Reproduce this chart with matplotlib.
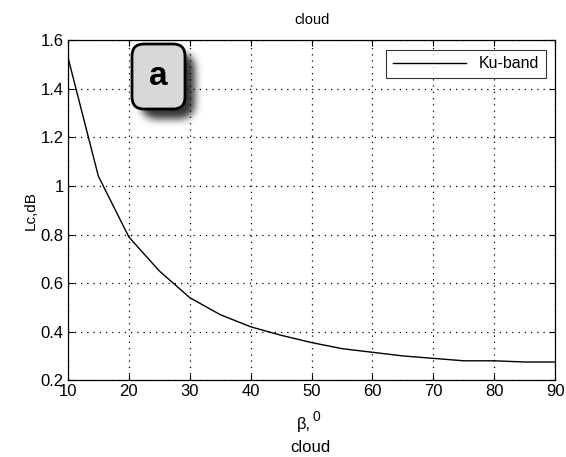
import numpy as np
import matplotlib
matplotlib.use("Agg")
import matplotlib.pyplot as plt
from matplotlib.patches import FancyBboxPatch
from matplotlib.transforms import IdentityTransform

plt.rcParams["font.family"] = ["Liberation Sans", "DejaVu Sans"]

# elevation angle (deg) and cloud attenuation (dB), Ku-band
beta = [10, 15, 20, 25, 30, 35, 40, 45, 50, 55, 60, 65, 70, 75, 80, 85, 90]
lc_ku = [1.53, 1.04, 0.79, 0.65, 0.54, 0.47, 0.42, 0.385, 0.355, 0.33,
         0.315, 0.30, 0.29, 0.28, 0.28, 0.275, 0.275]

x_ticks = [10, 20, 30, 40, 50, 60, 70, 80, 90]
y_ticks = [0.2, 0.4, 0.6, 0.8, 1.0, 1.2, 1.4, 1.6]
y_tick_labels = ["0.2", "0.4", "0.6", "0.8", "1", "1.2", "1.4", "1.6"]

W, H = 566, 457
fig = plt.figure(figsize=(W / 100, H / 100), dpi=100)
ax = fig.add_axes([0.120, 0.168, 0.861, 0.744])

ax.plot(beta, lc_ku, color="black", linewidth=1.0, label="Ku-band")

ax.set_xlim(10, 90)
ax.set_ylim(0.2, 1.6)
ax.set_xticks(x_ticks)
ax.set_yticks(y_ticks)
ax.set_yticklabels(y_tick_labels)
ax.tick_params(direction="in", top=True, right=True, labelsize=12, length=4, pad=3)
ax.grid(True, color="black", linestyle=(0, (1, 4)), linewidth=0.9)
for s in ax.spines.values():
    s.set_linewidth(0.9)

ax.set_title("cloud", fontsize=10.5, pad=12)
ax.set_ylabel("Lc,dB", fontsize=11, labelpad=2)

# x label: beta with superscript degree-zero, then "cloud" underneath
fig.text(304 / W, 1 - 424 / H, "β,", fontsize=12, ha="center", va="center")
fig.text(316 / W, 1 - 417 / H, "0", fontsize=10, ha="center", va="center")
fig.text(310 / W, 1 - 447 / H, "cloud", fontsize=12, ha="center", va="center")

leg = ax.legend(loc="upper right", fontsize=11.5, frameon=True, fancybox=False,
                handlelength=4.6, borderpad=0.4, borderaxespad=0.6)
leg.get_frame().set_edgecolor("black")
leg.get_frame().set_linewidth(0.8)

# "a" panel badge (pixel coords) with blurred drop shadow
x0, x1 = 132, 185
y0, y1 = H - 109, H - 44
r = 12

yy, xx = np.mgrid[0:H, 0:W]
dx = 9
dy = 10
sx0, sx1, sy0, sy1 = x0 + dx, x1 + dx, y0 - dy, y1 - dy
cx = np.clip(xx, sx0 + r, sx1 - r)
cy = np.clip(yy, sy0 + r, sy1 - r)
mask = (((xx - cx) ** 2 + (yy - cy) ** 2) <= r ** 2).astype(float)
k = np.exp(-0.5 * (np.arange(-12, 13) / 4.0) ** 2)
k /= k.sum()
mask = np.apply_along_axis(lambda v: np.convolve(v, k, mode="same"), 0, mask)
mask = np.apply_along_axis(lambda v: np.convolve(v, k, mode="same"), 1, mask)
rgba = np.zeros((H, W, 4))
rgba[..., 3] = mask * 0.8
sh_ax = fig.add_axes([0, 0, 1, 1], zorder=5)
sh_ax.imshow(rgba, origin="lower", extent=(0, W, 0, H), interpolation="bilinear")
sh_ax.set_xlim(0, W)
sh_ax.set_ylim(0, H)
sh_ax.axis("off")

badge = FancyBboxPatch((x0, y0), x1 - x0, y1 - y0,
                       boxstyle=f"round,pad=0.0,rounding_size={r}",
                       transform=IdentityTransform(), facecolor="#d8d8d8",
                       edgecolor="black", linewidth=2.0, zorder=6)
fig.patches.append(badge)
fig.text((x0 + x1) / 2 / W, (y0 + y1) / 2 / H, "a", fontsize=24, fontweight="bold",
         ha="center", va="center", zorder=7)

fig.savefig("out.png", dpi=100)
